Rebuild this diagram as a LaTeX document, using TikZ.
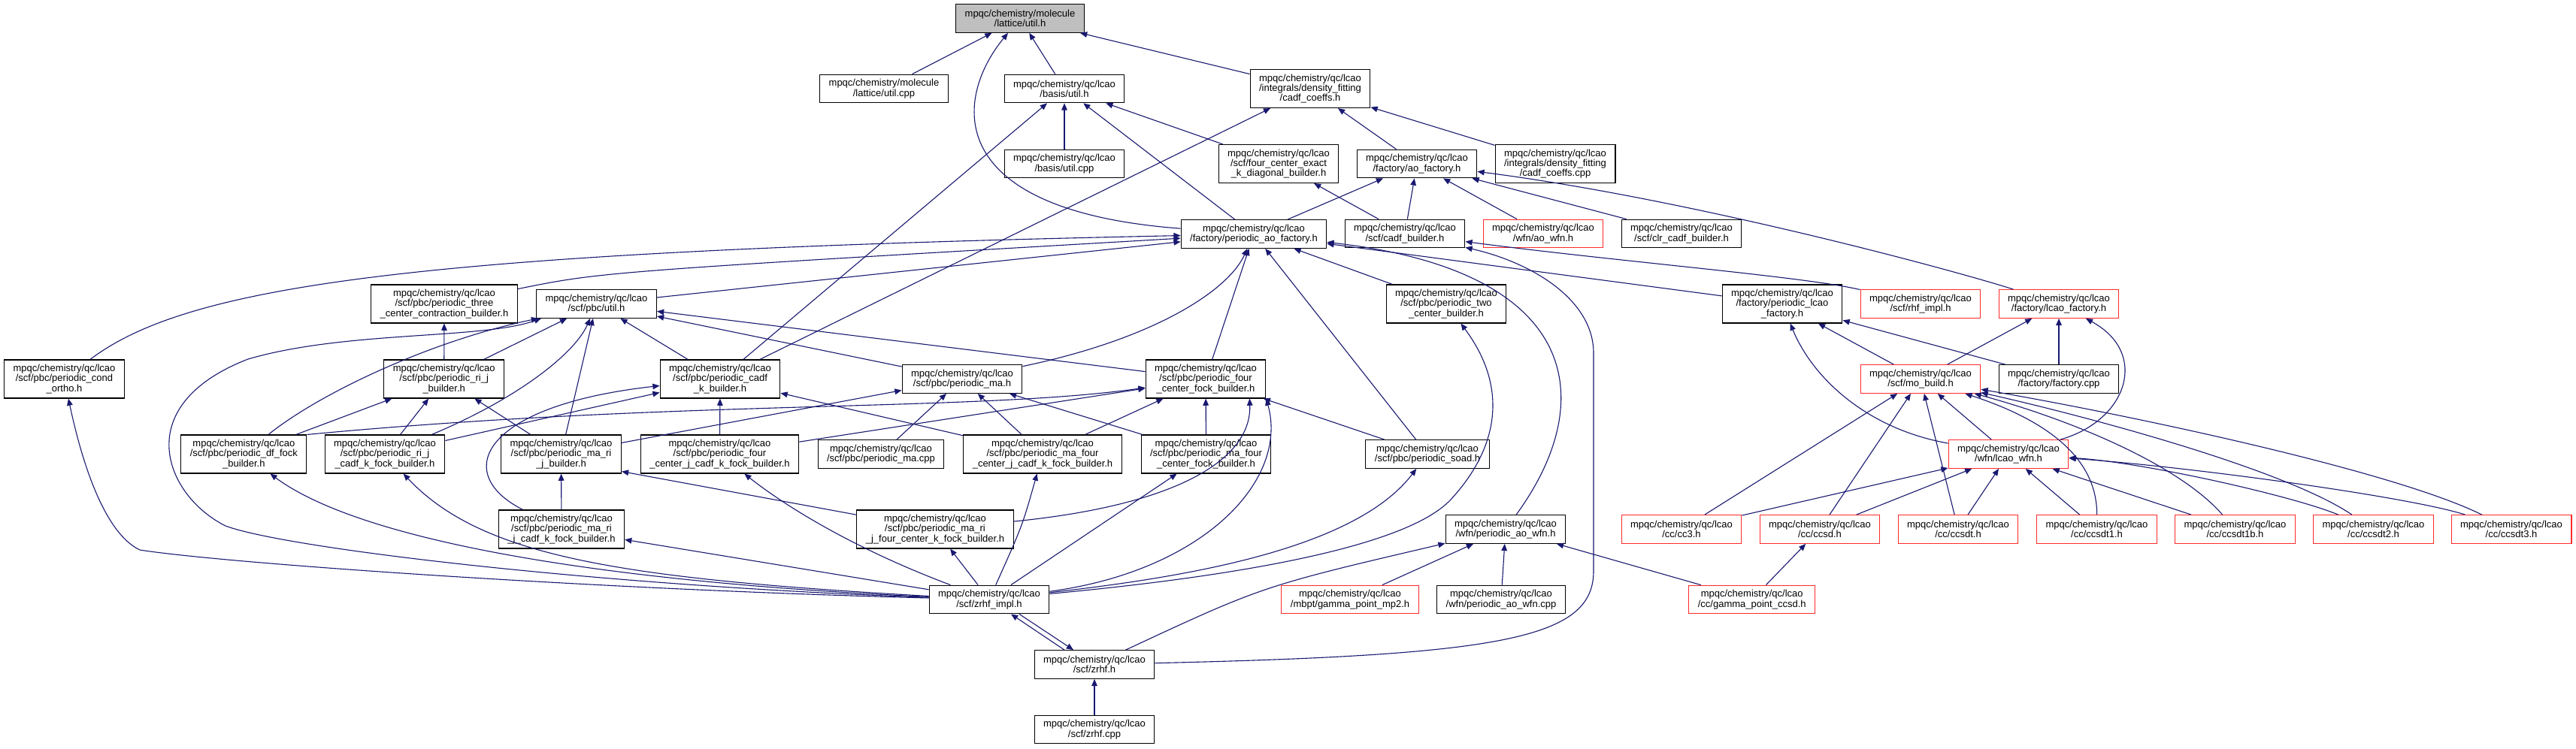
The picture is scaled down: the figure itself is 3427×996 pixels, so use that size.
\documentclass[tikz,border=0pt]{standalone}
\usepackage{fontspec}
\setmainfont{Liberation Sans}
\usetikzlibrary{arrows.meta,calc}
\definecolor{edgec}{HTML}{191970}
\definecolor{warnc}{HTML}{FF2A2A}
\definecolor{mainc}{HTML}{BFBFBF}
\newcommand\lc{mpqc/chemistry/qc/lcao}
\newcommand\nf{\fontsize{6.5pt}{6.65pt}\selectfont}
\tikzset{
  nd/.style={draw=black, line width=0.55pt, fill=white, font=\nf, align=center,
    inner xsep=6pt, inner ysep=0pt, minimum height=18.85pt},
  nd3/.style={nd, minimum height=25.5pt},
  warn/.style={draw=warnc},
  dep/.style={draw=edgec, line width=0.55pt, -{Triangle[length=4.6pt,width=3.8pt]}, fill=none}
}
\begin{document}
\begin{tikzpicture}[x=0.5pt,y=-0.5pt]
\useasboundingbox (0,0) rectangle (3427,996);
\fill[white] (0,0) rectangle (3427,996);
% nodes
\node[nd,fill=mainc] (A) at (1357,24.5) {mpqc/chemistry/molecule\\/lattice/util.h};
\node[nd] (latcpp) at (1176,118) {mpqc/chemistry/molecule\\/lattice/util.cpp};
\node[nd] (B) at (1416,118) {\lc\\/basis/util.h};
\node[nd3] (C) at (1743,118) {\lc\\/integrals/density\_fitting\\/cadf\_coeffs.h};
\node[nd] (basiscpp) at (1416,218) {\lc\\/basis/util.cpp};
\node[nd3] (D) at (1701,218) {\lc\\/scf/four\_center\_exact\\\_k\_diagonal\_builder.h};
\node[nd] (E) at (1885,218) {\lc\\/factory/ao\_factory.h};
\node[nd3] (cadfcpp) at (2069,218) {\lc\\/integrals/density\_fitting\\/cadf\_coeffs.cpp};
\node[nd] (F) at (1668,311.5) {\lc\\/factory/periodic\_ao\_factory.h};
\node[nd] (cadfb) at (1869,311) {\lc\\/scf/cadf\_builder.h};
\node[nd,warn] (aowfn) at (2053,311) {\lc\\/wfn/ao\_wfn.h};
\node[nd] (clr) at (2237,311) {\lc\\/scf/clr\_cadf\_builder.h};
\node[nd3] (three) at (591,404.5) {\lc\\/scf/pbc/periodic\_three\\\_center\_contraction\_builder.h};
\node[nd] (U) at (793.5,404.5) {\lc\\/scf/pbc/util.h};
\node[nd3] (two) at (1924,404.5) {\lc\\/scf/pbc/periodic\_two\\\_center\_builder.h};
\node[nd3] (plcao) at (2371,404.5) {\lc\\/factory/periodic\_lcao\\\_factory.h};
\node[nd,warn] (rhf) at (2555,404.5) {\lc\\/scf/rhf\_impl.h};
\node[nd,warn] (lcaofac) at (2739,404.5) {\lc\\/factory/lcao\_factory.h};
\node[nd3] (condortho) at (85.5,504.5) {\lc\\/scf/pbc/periodic\_cond\\\_ortho.h};
\node[nd3] (rij) at (590.7,504.5) {\lc\\/scf/pbc/periodic\_ri\_j\\\_builder.h};
\node[nd3] (cadfk) at (958,504.5) {\lc\\/scf/pbc/periodic\_cadf\\\_k\_builder.h};
\node[nd] (pma) at (1280,504.5) {\lc\\/scf/pbc/periodic\_ma.h};
\node[nd3] (G) at (1604,504.5) {\lc\\/scf/pbc/periodic\_four\\\_center\_fock\_builder.h};
\node[nd,warn] (mobuild) at (2555,504.5) {\lc\\/scf/mo\_build.h};
\node[nd] (factcpp) at (2739,504.5) {\lc\\/factory/factory.cpp};
\node[nd3] (dffock) at (324.4,604.5) {\lc\\/scf/pbc/periodic\_df\_fock\\\_builder.h};
\node[nd3] (rijcadfk) at (512,604.5) {\lc\\/scf/pbc/periodic\_ri\_j\\\_cadf\_k\_fock\_builder.h};
\node[nd3] (marij) at (746.5,604.5) {\lc\\/scf/pbc/periodic\_ma\_ri\\\_j\_builder.h};
\node[nd3] (fourjcadfk) at (957.5,604.5) {\lc\\/scf/pbc/periodic\_four\\\_center\_j\_cadf\_k\_fock\_builder.h};
\node[nd] (macpp) at (1172,604.5) {\lc\\/scf/pbc/periodic\_ma.cpp};
\node[nd3] (mafourjcadfk) at (1387,604.5) {\lc\\/scf/pbc/periodic\_ma\_four\\\_center\_j\_cadf\_k\_fock\_builder.h};
\node[nd3] (mafourfock) at (1604.5,604.5) {\lc\\/scf/pbc/periodic\_ma\_four\\\_center\_fock\_builder.h};
\node[nd] (soad) at (1899,604.5) {\lc\\/scf/pbc/periodic\_soad.h};
\node[nd,warn] (lcaowfn) at (2672,604.5) {\lc\\/wfn/lcao\_wfn.h};
\node[nd3] (marijcadfk) at (747,704.5) {\lc\\/scf/pbc/periodic\_ma\_ri\\\_j\_cadf\_k\_fock\_builder.h};
\node[nd3] (marijfourk) at (1244,704.5) {\lc\\/scf/pbc/periodic\_ma\_ri\\\_j\_four\_center\_k\_fock\_builder.h};
\node[nd] (paowfn) at (2003,704.5) {\lc\\/wfn/periodic\_ao\_wfn.h};
\node[nd,warn] (cc3) at (2237,704.5) {\lc\\/cc/cc3.h};
\node[nd,warn] (ccsd) at (2421,704.5) {\lc\\/cc/ccsd.h};
\node[nd,warn] (ccsdt) at (2605,704.5) {\lc\\/cc/ccsdt.h};
\node[nd,warn] (ccsdt1) at (2789.5,704.5) {\lc\\/cc/ccsdt1.h};
\node[nd,warn] (ccsdt1b) at (2973.5,704.5) {\lc\\/cc/ccsdt1b.h};
\node[nd,warn] (ccsdt2) at (3157.5,704.5) {\lc\\/cc/ccsdt2.h};
\node[nd,warn] (ccsdt3) at (3341,704.5) {\lc\\/cc/ccsdt3.h};
\node[nd] (zrhfimpl) at (1316,798) {\lc\\/scf/zrhf\_impl.h};
\node[nd,warn] (gmp2) at (1796,798) {\lc\\/mbpt/gamma\_point\_mp2.h};
\node[nd] (paowfncpp) at (1997,798) {\lc\\/wfn/periodic\_ao\_wfn.cpp};
\node[nd,warn] (gccsd) at (2330.7,798) {\lc\\/cc/gamma\_point\_ccsd.h};
\node[nd] (zrhf) at (1456,884.5) {\lc\\/scf/zrhf.h};
\node[nd] (zrhfcpp) at (1456,971) {\lc\\/scf/zrhf.cpp};
% edges: A
\draw[dep] (latcpp) -- (A);
\draw[dep] (B) -- (A);
\draw[dep] (C) -- (A);
\draw[dep] (F) .. controls (1250,280) and (1270,130) .. (A);
% B, C, D, E
\draw[dep] (basiscpp) -- (B);
\draw[dep] (D) -- (B);
\draw[dep] (F) -- (B);
\draw[dep] (cadfk) -- (B);
\draw[dep] (E) -- (C);
\draw[dep] (cadfcpp) -- (C);
\draw[dep] (cadfk) -- (C);
\draw[dep] (cadfb) -- (D);
\draw[dep] (F) -- (E);
\draw[dep] (cadfb) -- (E);
\draw[dep] (aowfn) -- (E);
\draw[dep] (clr) -- (E);
\draw[dep] (lcaofac) .. controls (2600,360) and (2250,265) .. (E);
% F
\draw[dep] (three) .. controls (800,362) .. (F);
\draw[dep] (condortho) .. controls (250,380) and (550,335) .. (F);
\draw[dep] (U) -- (F);
\draw[dep] (pma) .. controls (1540,450) and (1635,385) .. (F);
\draw[dep] (G) -- (F);
\draw[dep] (soad) -- (F);
\draw[dep] (two) -- (F);
\draw[dep] (plcao) -- (F);
\draw[dep] (paowfn) .. controls (2130,530) and (2100,360) .. (F);
% cadf builder
\draw[dep] (rhf) .. controls (2400,368) and (2150,348) .. (cadfb);
\draw[dep] (zrhf) .. controls (2000,872) and (2120,850) .. (2120,760) -- (2120,470) .. controls (2120,400) and (2040,350) .. (cadfb);
% three, U
\draw[dep] (rij) -- (three);
\draw[dep] (zrhfimpl) .. controls (800,780) and (380,730) .. (300,700) .. controls (220,660) and (170,540) .. (330,478) .. controls (460,440) and (640,452) .. ($(U.south west)+(7,0)$);
\draw[dep] (dffock) .. controls (430,520) and (580,452) .. ($(U.south west)+(3,0)$);
\draw[dep] (rij) -- (U);
\draw[dep] (rijcadfk) .. controls (690,530) and (765,470) .. (U);
\draw[dep] (marij) -- (U);
\draw[dep] (cadfk) -- (U);
\draw[dep] (pma) -- (U);
\draw[dep] (G) -- (U);
% rij
\draw[dep] (dffock) -- (rij);
\draw[dep] (rijcadfk) -- (rij);
\draw[dep] (marij) -- (rij);
% cadfk
\draw[dep] (fourjcadfk) -- (cadfk);
\draw[dep] (mafourjcadfk) -- (cadfk);
\draw[dep] (rijcadfk) -- (cadfk);
\draw[dep] (marijcadfk) .. controls (600,630) and (640,540) .. (cadfk);
% pma
\draw[dep] (macpp) -- (pma);
\draw[dep] (mafourjcadfk) -- (pma);
\draw[dep] (mafourfock) -- (pma);
\draw[dep] (marij) -- (pma);
% G
\draw[dep] (fourjcadfk) -- (G);
\draw[dep] (mafourjcadfk) -- (G);
\draw[dep] (mafourfock) -- (G);
\draw[dep] (soad) -- (G);
\draw[dep] (dffock.north east) .. controls (900,532) and (1300,548) .. (G);
\draw[dep] (zrhfimpl) .. controls (1600,760) and (1715,640) .. (G.south east);
\draw[dep] (marijfourk) .. controls (1570,672) and (1665,610) .. ($(G.south east)+(-22,0)$);
% two, soad
\draw[dep] (zrhfimpl) .. controls (1560,775) and (1860,740) .. (1930,665) .. controls (1990,600) and (2010,520) .. (two);
\draw[dep] (zrhfimpl) .. controls (1560,770) and (1800,735) .. (soad);
% paowfn
\draw[dep] (zrhf) .. controls (1680,780) .. (paowfn);
\draw[dep] (gmp2) -- (paowfn);
\draw[dep] (paowfncpp) -- (paowfn);
\draw[dep] (gccsd) -- (paowfn);
\draw[dep] (gccsd) -- (ccsd);
% plcao, lcaofac
\draw[dep] (lcaowfn) .. controls (2480,570) and (2410,500) .. (plcao);
\draw[dep] (mobuild) -- (plcao);
\draw[dep] (factcpp) -- (plcao);
\draw[dep] (mobuild) -- (lcaofac);
\draw[dep] (factcpp) -- (lcaofac);
\draw[dep] (lcaowfn) .. controls (2830,560) and (2860,470) .. (lcaofac);
% mobuild
\draw[dep] (lcaowfn) -- (mobuild);
\draw[dep] (cc3) -- (mobuild);
\draw[dep] (ccsd) -- (mobuild);
\draw[dep] (ccsdt) -- (mobuild);
\draw[dep] (ccsdt1) .. controls (2790,620) and (2740,565) .. (mobuild);
\draw[dep] (ccsdt1b) .. controls (2900,620) and (2760,560) .. (mobuild);
\draw[dep] (ccsdt2) .. controls (3040,625) and (2780,555) .. (mobuild);
\draw[dep] (ccsdt3) .. controls (3180,625) and (2820,550) .. (mobuild);
% lcaowfn
\draw[dep] (cc3) -- (lcaowfn);
\draw[dep] (ccsd) -- (lcaowfn);
\draw[dep] (ccsdt) -- (lcaowfn);
\draw[dep] (ccsdt1) -- (lcaowfn);
\draw[dep] (ccsdt1b) -- (lcaowfn);
\draw[dep] (ccsdt2) .. controls (3050,660) and (2850,615) .. (lcaowfn);
\draw[dep] (ccsdt3) .. controls (3200,660) and (2900,620) .. (lcaowfn);
% marij
\draw[dep] (marijcadfk) -- (marij);
\draw[dep] (marijfourk) -- ($(marij.south east)+(0,-3)$);
% zrhf_impl users
\draw[dep] (zrhfimpl) .. controls (800,785) and (300,750) .. (186,732) .. controls (140,710) and (110,620) .. (condortho);
\draw[dep] (zrhfimpl) .. controls (800,775) and (480,720) .. (dffock);
\draw[dep] (zrhfimpl) .. controls (820,770) and (640,740) .. (rijcadfk);
\draw[dep] (zrhfimpl) -- (marijcadfk);
\draw[dep] (zrhfimpl) .. controls (1130,728) and (1040,670) .. (fourjcadfk);
\draw[dep] (zrhfimpl) .. controls (1360,700) .. (mafourjcadfk);
\draw[dep] (zrhfimpl) -- (mafourfock);
\draw[dep] (zrhfimpl) -- (marijfourk);
% zrhf
\draw[dep] ($(zrhf.north)+(-40,0)$) -- ($(zrhfimpl.south)+(29,0)$);
\draw[dep] ($(zrhfimpl.south)+(40,0)$) -- ($(zrhf.north)+(-28,0)$);
\draw[dep] (zrhfcpp) -- (zrhf);
\end{tikzpicture}
\end{document}
